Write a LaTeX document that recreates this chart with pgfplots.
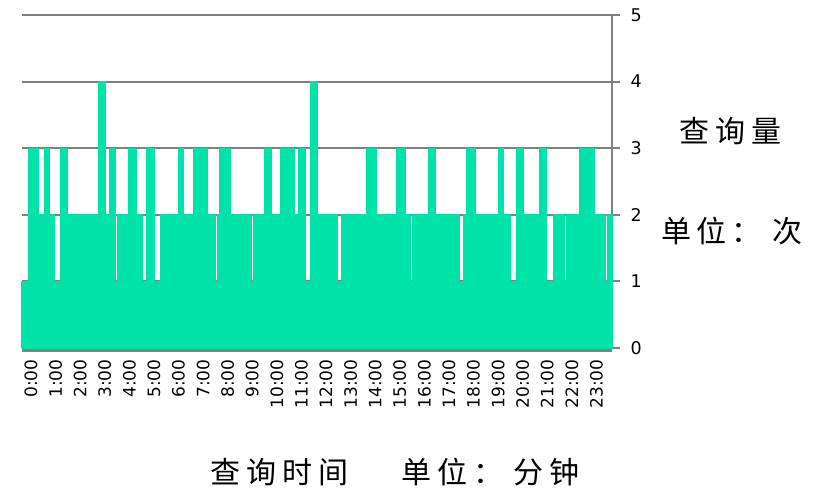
\documentclass[border=0pt]{standalone}
\usepackage{fontspec}
\setmainfont{DejaVu Sans}
\newfontfamily\cjk{Noto Sans CJK SC}
\usepackage{pgfplots}
\pgfplotsset{compat=1.18}
\definecolor{mint}{RGB}{0,227,168}
\definecolor{gridgray}{RGB}{128,128,128}
\begin{document}
\begin{tikzpicture}[x=1pt,y=1pt]
\path[use as bounding box] (0,0) rectangle (823,492);
\begin{axis}[
  at={(22pt,144pt)}, anchor=south west, scale only axis,
  width=590pt, height=333pt,
  xmin=0, xmax=1440, ymin=0, ymax=5,
  axis x line*=bottom, axis y line*=right,
  x axis line style={draw=gridgray, line width=4pt, yshift=-2pt},
  y axis line style={draw=gridgray, line width=2pt},
  ytick={0,1,2,3,4,5},
  xtick={0,60,...,1380},
  xticklabels={0:00,1:00,2:00,3:00,4:00,5:00,6:00,7:00,8:00,9:00,10:00,11:00,12:00,13:00,14:00,15:00,16:00,17:00,18:00,19:00,20:00,21:00,22:00,23:00},
  x tick style={draw=none},
  y tick style={draw=gridgray, line width=2pt},
  tick align=outside, major tick length=8pt,
  ymajorgrids, grid style={draw=gridgray, line width=2pt},
  /pgf/number format/assume math mode=true,
  xticklabel style={rotate=90, anchor=east, font=\fontsize{17}{17}\selectfont, yshift=-9pt},
  yticklabel style={anchor=west, font=\fontsize{17.5}{17.5}\selectfont, xshift=7pt},
  clip=false,
]
\addplot[fill=mint, draw=mint, line width=1.2pt, line join=round] coordinates {
(0,1)
(15,1)(15,3)(41,3)(41,2)(54,2)(54,3)(68,3)(68,2)(78,2)(78,1)
(95,1)(95,3)(112,3)(112,2)(183,2)(183,1)
(186,1)(186,4)(203,4)(203,1)
(207,1)(207,2)(215,2)(215,3)(229,3)(229,1)
(234,1)(234,2)(259,2)(259,3)(278,3)(278,2)(295,2)(295,1)
(305,1)(305,3)(322,3)(322,1)
(339,1)(339,2)(381,2)(381,3)(395,3)(395,2)(420,2)(420,3)(434,3)(434,2)(437,2)(437,3)(452,3)(452,2)(473,2)(473,1)
(478,1)(478,2)(483,2)(483,3)(508,3)(508,2)(561,2)(561,1)
(565,1)(565,2)(591,2)(591,3)(608,3)(608,2)(630,2)(630,3)(664,3)(664,2)(671,2)(671,1)
(676,1)(676,3)(691,3)(691,1)
(705,1)(705,4)(722,4)(722,2)(769,2)(769,1)
(781,1)(781,2)(796,2)(796,1)
(800,1)(800,2)(818,2)(818,1)
(822,1)(822,2)(837,2)(837,1)
(840,1)(840,3)(866,3)(866,2)(915,2)(915,3)(935,3)(935,2)(949,2)(949,1)
(954,1)(954,2)(993,2)(993,3)(1008,3)(1008,2)(1067,2)(1067,1)
(1079,1)(1079,2)(1084,2)(1084,3)(1106,3)(1106,2)(1162,2)(1162,3)(1176,3)(1176,2)(1193,2)(1193,1)
(1208,1)(1208,3)(1223,3)(1223,2)(1264,2)(1264,3)(1279,3)(1279,2)(1281,2)(1281,1)
(1298,1)(1298,2)(1323,2)(1323,1)
(1328,1)(1328,2)(1362,2)(1362,3)(1376,3)(1376,2)(1379,2)(1379,3)(1396,3)(1396,2)(1425,2)(1425,1)
(1429,1)(1429,2)(1440,2)
} \closedcycle;
\end{axis}
\node[anchor=west, inner sep=0pt, font=\cjk\fontsize{30}{30}\selectfont] at (679,361) {查\kern6pt 询\kern6pt 量};
\node[anchor=west, inner sep=0pt, font=\cjk\fontsize{30}{30}\selectfont] at (661,261) {单\kern5pt 位\kern5pt ：\kern11pt 次};
\node[anchor=west, inner sep=0pt, font=\cjk\fontsize{30}{30}\selectfont] at (210,20) {查\kern6pt 询\kern6pt 时\kern6pt 间\kern53pt 单\kern6pt 位\kern6pt ：\kern10pt 分\kern6pt 钟};
\end{tikzpicture}
\end{document}
